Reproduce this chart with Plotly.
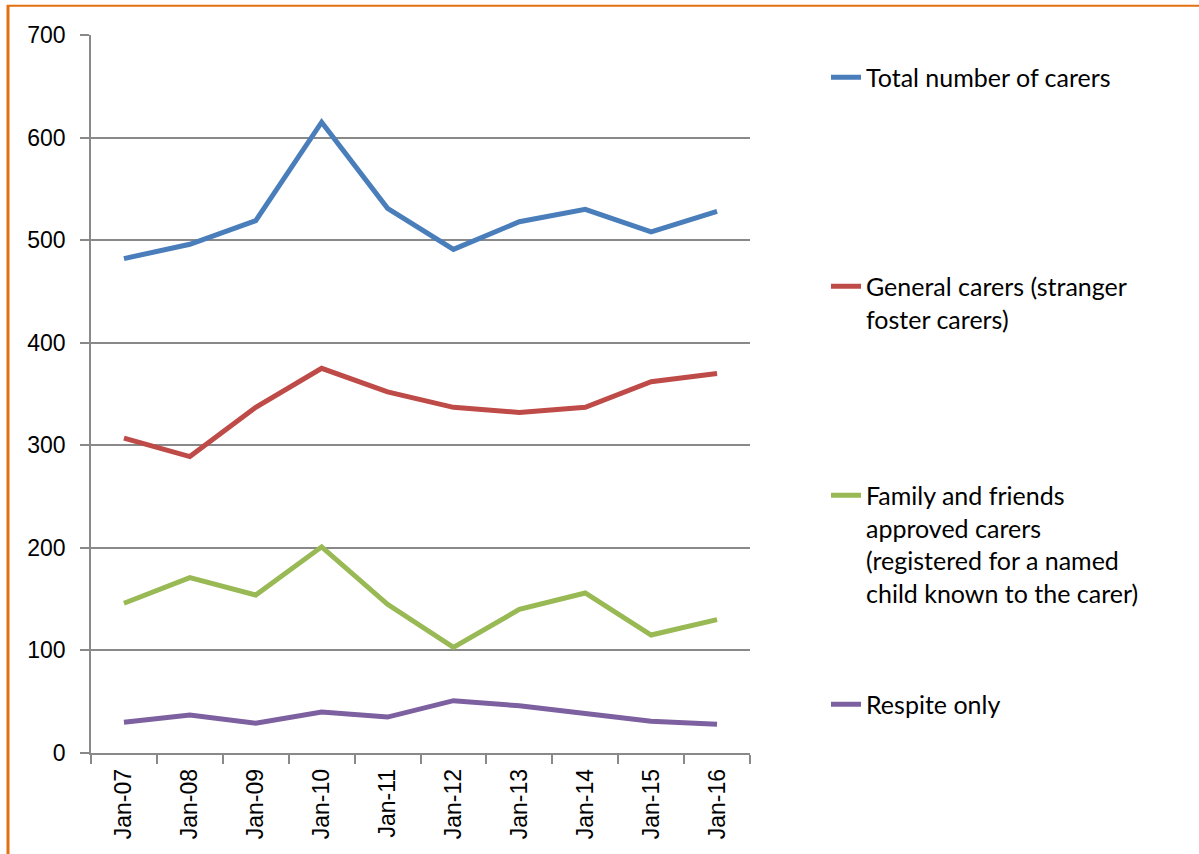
import plotly.graph_objects as go

# Foster carer counts by year (January snapshot)
months = ["Jan-07", "Jan-08", "Jan-09", "Jan-10", "Jan-11",
          "Jan-12", "Jan-13", "Jan-14", "Jan-15", "Jan-16"]
total_carers = [482, 496, 519, 615, 531, 491, 518, 530, 508, 528]
general_carers = [307, 289, 337, 375, 352, 337, 332, 337, 362, 370]
family_friends_carers = [146, 171, 154, 201, 145, 103, 140, 156, 115, 130]
respite_only = [30, 37, 29, 40, 35, 51, 46, 38, 31, 28]

series_names = [
    "Total number of carers",
    "General carers (stranger<br>foster carers)",
    "Family and friends<br>approved carers<br>(registered for a named<br>child known to the carer)",
    "Respite only",
]
series_colors = ["#4A7EBB", "#BE4B48", "#98B954", "#7D60A0"]
y_ticks = [0, 100, 200, 300, 400, 500, 600, 700]

W, H = 1199, 854
L, R, T, B = 91, 449, 35, 101
plot_w, plot_h = W - L - R, H - T - B

def px_x(px):
    return (px - L) / plot_w

def px_y(py):
    return (H - B - py) / plot_h

AXIS_FONT = dict(family="Liberation Sans, Arial, sans-serif", size=23, color="#000000")
LEGEND_FONT = dict(family="Lato, Noto Sans, sans-serif", size=25, color="#000000")
GRID = "#898989"

fig = go.Figure()
all_series = [total_carers, general_carers, family_friends_carers, respite_only]
legend_ids = ["legend", "legend2", "legend3", "legend4"]
for name, values, color, lg in zip(series_names, all_series, series_colors, legend_ids):
    fig.add_trace(go.Scatter(
        x=months, y=values, name=name, mode="lines",
        line=dict(color=color, width=5),
        legend=lg, hoverinfo="x+y",
    ))

legend_rows = [78, 287, 496, 705]
legend_layout = {}
for lg, row in zip(legend_ids, legend_rows):
    legend_layout[lg] = dict(
        x=px_x(826), y=px_y(row - 23.5), xanchor="left", yanchor="top",
        font=LEGEND_FONT, valign="top", bgcolor="rgba(0,0,0,0)",
        borderwidth=0, itemclick=False, itemdoubleclick=False,
    )

fig.update_layout(
    width=W, height=H,
    margin=dict(l=L, r=R, t=T, b=B, pad=0, autoexpand=False),
    paper_bgcolor="#FFFFFF", plot_bgcolor="#FFFFFF",
    showlegend=True,
    **legend_layout,
    xaxis=dict(
        type="category", range=[-0.5, len(months) - 0.5], automargin=False,
        tickson="boundaries", ticks="outside", ticklen=9, tickwidth=1.6,
        tickcolor=GRID, showline=True, linecolor=GRID, linewidth=1.6,
        showgrid=False, zeroline=False, tickangle=-90,
        tickfont=AXIS_FONT, ticklabelstandoff=5,
    ),
    yaxis=dict(
        range=[0, 700], tickmode="array", tickvals=y_ticks, automargin=False,
        ticks="outside", ticklen=9, tickwidth=1.6, tickcolor=GRID,
        showline=True, linecolor=GRID, linewidth=1.6,
        showgrid=True, gridcolor=GRID, gridwidth=1.6, zeroline=False,
        tickfont=AXIS_FONT, ticklabelstandoff=10,
    ),
    shapes=[
        # orange frame along the top and left edges
        dict(type="line", xref="paper", yref="paper",
             x0=px_x(7), x1=px_x(W + 5), y0=px_y(5.8), y1=px_y(5.8),
             line=dict(color="#E3700F", width=2)),
        dict(type="line", xref="paper", yref="paper",
             x0=px_x(8), x1=px_x(8), y0=px_y(5), y1=px_y(H + 5),
             line=dict(color="#E3700F", width=3)),
    ],
)

fig.write_html("out.html")
